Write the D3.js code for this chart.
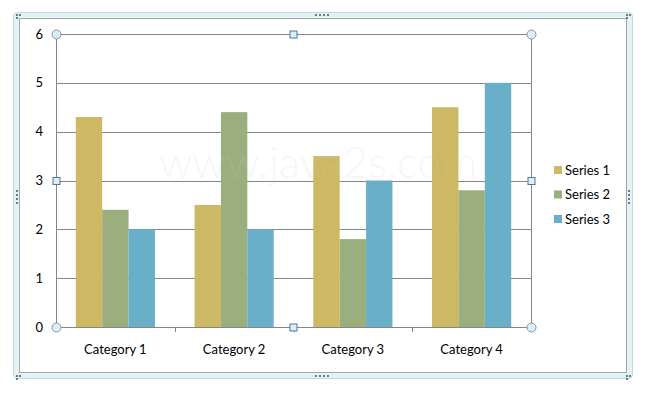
<!DOCTYPE html>
<html>
<head>
<meta charset="utf-8">
<script src="https://cdn.jsdelivr.net/npm/d3@7"></script>
<style>
  body { margin: 0; background: #fff; }
  svg text { font-family: Lato, "Open Sans", sans-serif; font-size: 13px; fill: #000; }
</style>
</head>
<body>
<div id="chart"></div>
<script>
// chart data
var categories = ["Category 1", "Category 2", "Category 3", "Category 4"];
var seriesNames = ["Series 1", "Series 2", "Series 3"];
var series1 = [4.3, 2.5, 3.5, 4.5];
var series2 = [2.4, 4.4, 1.8, 2.8];
var series3 = [2, 2, 3, 5];
var yTicks = [0, 1, 2, 3, 4, 5, 6];

var colors = ["#cdb964", "#9baf7e", "#69afc8"];
var allSeries = [series1, series2, series3];

var W = 652, H = 394;
var svg = d3.select("#chart").append("svg")
    .attr("width", W).attr("height", H);

// outer selection frame
svg.append("rect").attr("x", 13.5).attr("y", 12.5).attr("width", 619).attr("height", 366)
    .attr("rx", 4).attr("fill", "#e0f4f6").attr("stroke", "#c4d6d8");
svg.append("rect").attr("x", 19.5).attr("y", 18.5).attr("width", 607).attr("height", 354)
    .attr("fill", "#fff").attr("stroke", "#a8a8a8");

// frame dots
function dots(cx, cy, vertical) {
    for (var i = 0; i < 4; i++) {
        svg.append("rect")
            .attr("x", vertical ? cx : cx + i * 4)
            .attr("y", vertical ? cy + i * 4 : cy)
            .attr("width", 2).attr("height", 2).attr("fill", "#6a7a86");
    }
}
dots(315, 14, false);
dots(315, 375, false);
dots(16, 190, true);
dots(628, 190, true);
[[16, 14], [626, 14], [16, 375], [626, 375]].forEach(function (p) {
    svg.append("rect").attr("x", p[0]).attr("y", p[1]).attr("width", 2).attr("height", 2).attr("fill", "#6a7a86");
    svg.append("rect").attr("x", p[0] + 3).attr("y", p[1]).attr("width", 2).attr("height", 2).attr("fill", "#6a7a86");
    svg.append("rect").attr("x", p[0]).attr("y", p[1] + 3).attr("width", 2).attr("height", 2).attr("fill", "#6a7a86");
});

var plot = { left: 56, right: 531, top: 34, bottom: 327 };

var x = d3.scaleBand().domain(categories).range([plot.left, plot.right]).paddingInner(0).paddingOuter(0);
var bandPad = x.bandwidth() / 4.5 * 0.75;
var x1 = d3.scaleBand().domain(seriesNames)
    .range([bandPad, x.bandwidth() - bandPad]);
var y = d3.scaleLinear().domain([0, 6]).range([plot.bottom, plot.top]);

// gridlines
svg.append("g").selectAll("line").data(yTicks).join("line")
    .attr("x1", plot.left).attr("x2", plot.right)
    .attr("y1", function (d) { return Math.round(y(d)) + 0.5; })
    .attr("y2", function (d) { return Math.round(y(d)) + 0.5; })
    .attr("stroke", "#868686");

// bars
var groups = svg.append("g").selectAll("g").data(categories).join("g")
    .attr("transform", function (d) { return "translate(" + x(d) + ",0)"; });
groups.selectAll("rect").data(function (d, i) {
        return allSeries.map(function (s, j) { return { name: seriesNames[j], v: s[i], c: colors[j] }; });
    }).join("rect")
    .attr("x", function (d) { return x1(d.name); })
    .attr("width", x1.bandwidth())
    .attr("y", function (d) { return y(d.v); })
    .attr("height", function (d) { return y(0) - y(d.v); })
    .attr("fill", function (d) { return d.c; });

// axes lines
svg.append("line").attr("x1", plot.left + 0.5).attr("x2", plot.left + 0.5)
    .attr("y1", plot.top).attr("y2", plot.bottom).attr("stroke", "#868686");
svg.append("line").attr("x1", plot.right + 0.5).attr("x2", plot.right + 0.5)
    .attr("y1", plot.top).attr("y2", plot.bottom).attr("stroke", "#868686");

// category ticks
svg.append("g").selectAll("line").data(categories.slice(1)).join("line")
    .attr("x1", function (d) { return Math.round(x(d)) + 0.5; })
    .attr("x2", function (d) { return Math.round(x(d)) + 0.5; })
    .attr("y1", plot.bottom).attr("y2", plot.bottom + 5).attr("stroke", "#868686");

// watermark, drawn over the bars
svg.append("text").attr("x", 318).attr("y", 178).attr("text-anchor", "middle")
    .style("font-size", "44px").style("font-weight", "300")
    .style("fill", "#c8c8c8").style("fill-opacity", 0.18).text("www.java2s.com");

// y labels
svg.append("g").selectAll("text").data(yTicks).join("text")
    .attr("x", 43).attr("y", function (d) { return y(d) + 4.5; })
    .attr("text-anchor", "end").text(function (d) { return d; });

// x labels
svg.append("g").selectAll("text").data(categories).join("text")
    .attr("x", function (d) { return x(d) + x.bandwidth() / 2; })
    .attr("y", 354).attr("text-anchor", "middle").text(function (d) { return d; });

// legend
var leg = svg.append("g").selectAll("g").data(seriesNames).join("g")
    .attr("transform", function (d, i) { return "translate(554," + (170 + i * 24.5) + ")"; });
leg.append("rect").attr("x", 0).attr("y", -4).attr("width", 8).attr("height", 8)
    .attr("fill", function (d, i) { return colors[i]; });
leg.append("text").attr("x", 11).attr("y", 4.5).text(function (d) { return d; });

// selection handles
function circleHandle(cx, cy) {
    svg.append("circle").attr("cx", cx + 0.5).attr("cy", cy + 0.5).attr("r", 4.5)
        .attr("fill", "#dceef6").attr("stroke", "#7f96a6");
}
function squareHandle(cx, cy) {
    svg.append("rect").attr("x", cx - 3.5).attr("y", cy - 3.5).attr("width", 7).attr("height", 7)
        .attr("fill", "#dceef8").attr("stroke", "#4f77a0");
}
circleHandle(plot.left, plot.top);
circleHandle(plot.right, plot.top);
circleHandle(plot.left, plot.bottom);
circleHandle(plot.right, plot.bottom);
squareHandle(293.5, plot.top + 0.5);
squareHandle(293.5, plot.bottom + 0.5);
squareHandle(plot.left + 0.5, 181);
squareHandle(plot.right + 0.5, 181);
</script>
</body>
</html>
